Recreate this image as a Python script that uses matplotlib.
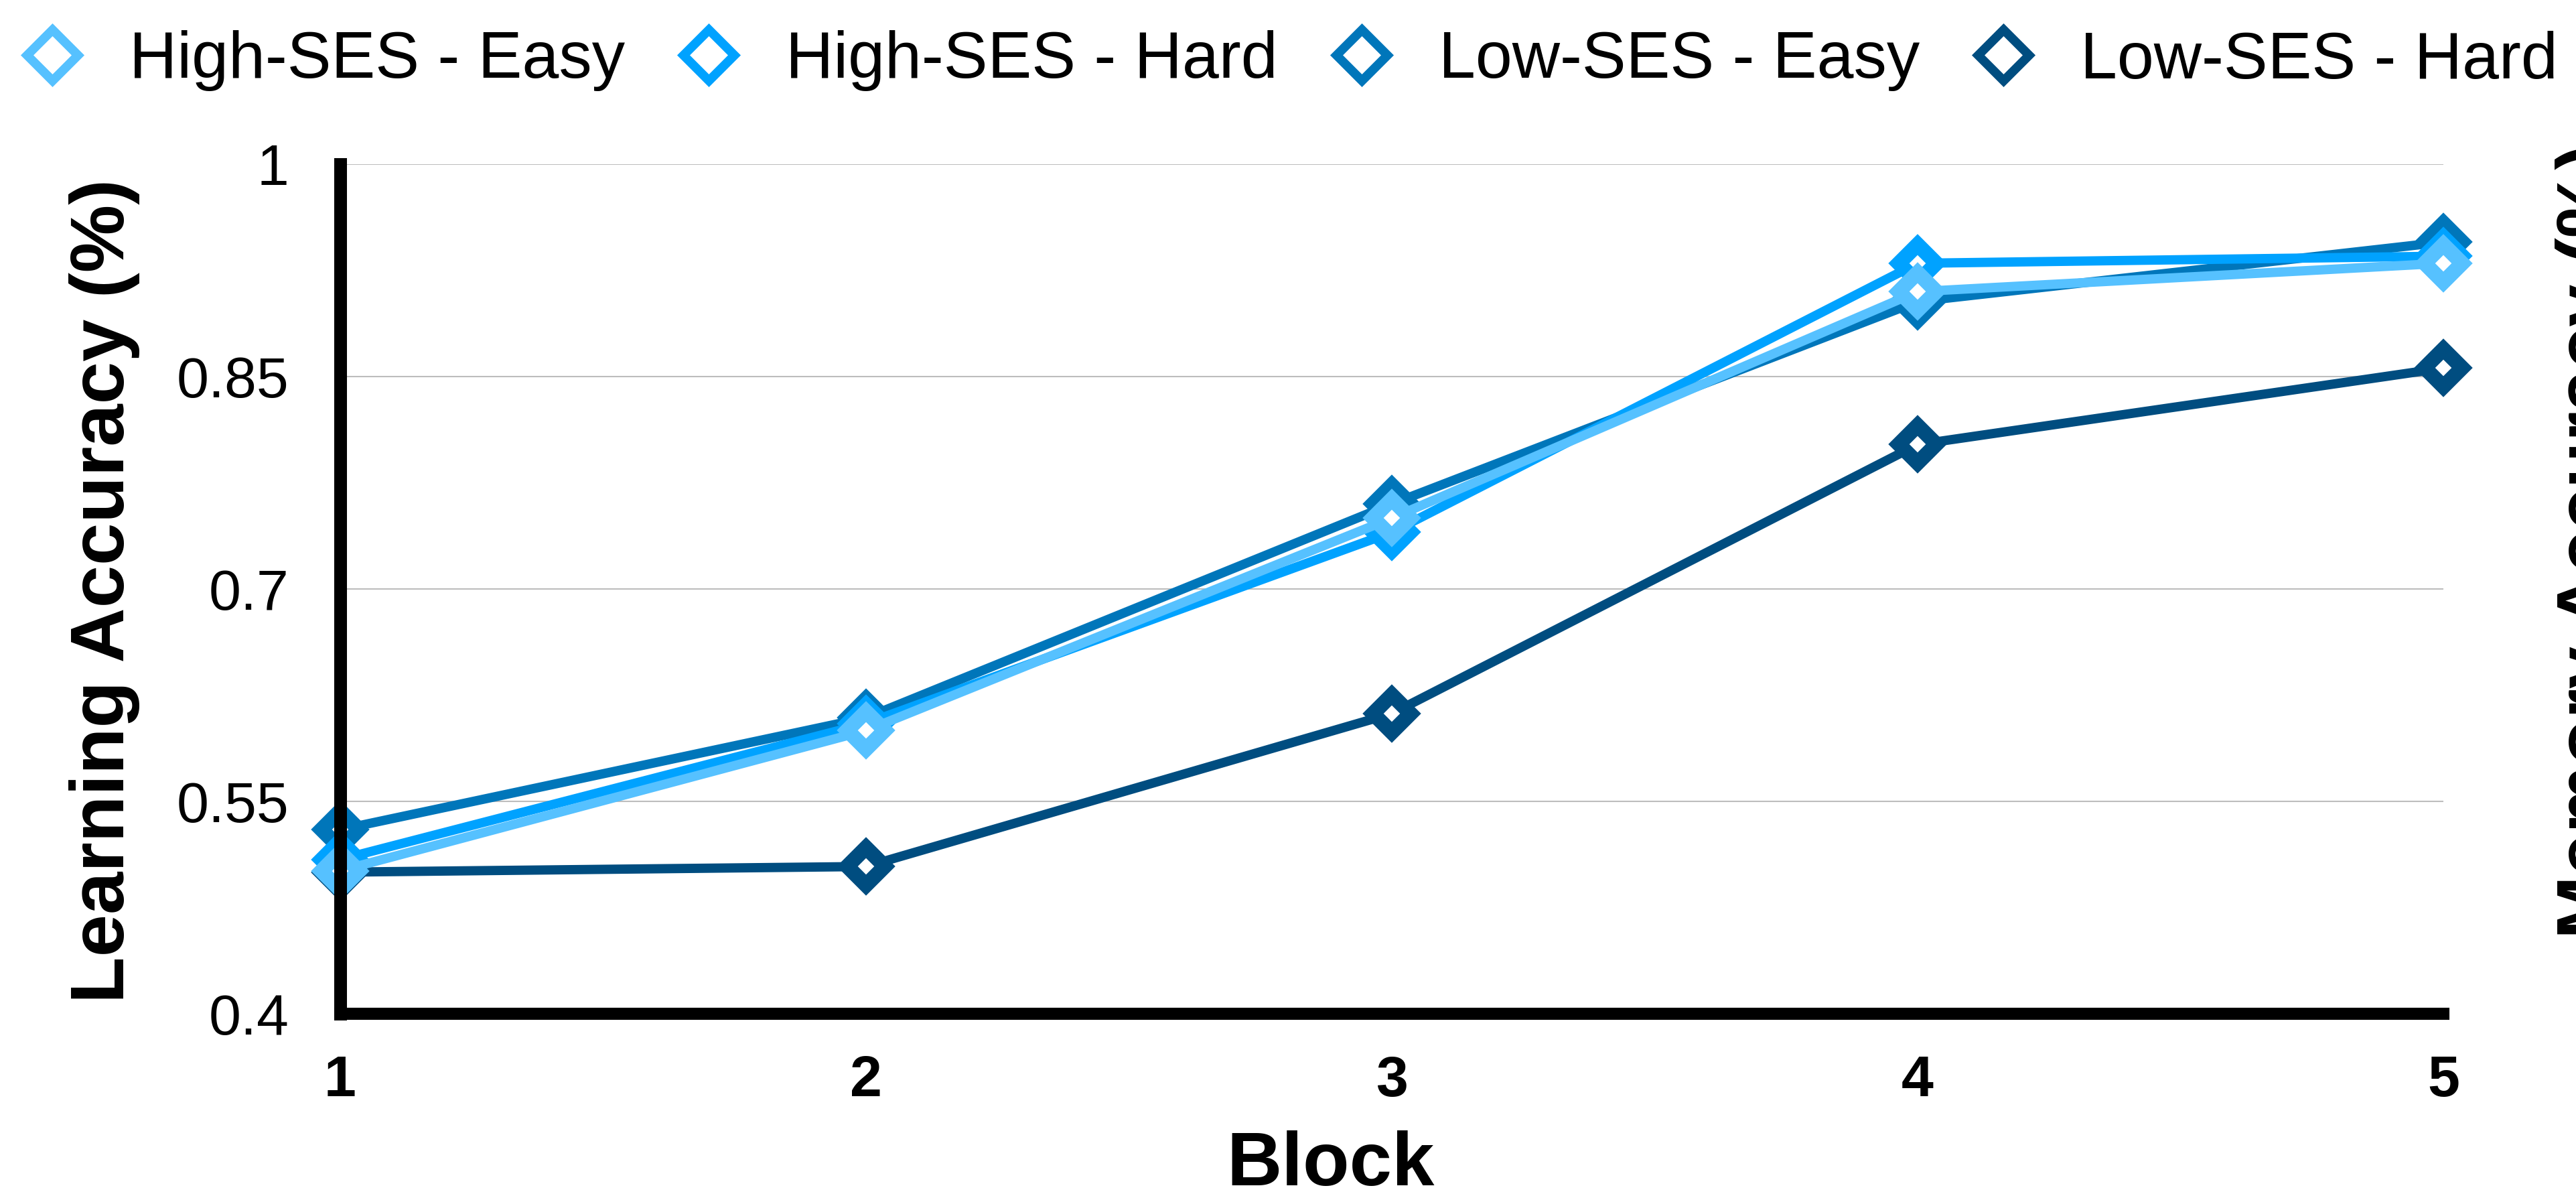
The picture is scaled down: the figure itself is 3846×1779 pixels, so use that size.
import matplotlib
matplotlib.use("Agg")
import matplotlib.pyplot as plt
from matplotlib.lines import Line2D

plt.rcParams['font.family'] = ['Liberation Sans', 'DejaVu Sans']

blocks = [1, 2, 3, 4, 5]
high_easy = [0.501, 0.600, 0.750, 0.910, 0.930]
high_hard = [0.509, 0.605, 0.740, 0.930, 0.935]
low_easy = [0.530, 0.609, 0.760, 0.903, 0.945]
low_hard = [0.500, 0.504, 0.612, 0.802, 0.856]

labels = ['High-SES - Easy', 'High-SES - Hard', 'Low-SES - Easy', 'Low-SES - Hard']
colors = ['#56C1FF', '#00A2FF', '#0076BA', '#004D80']
yticks = [0.4, 0.55, 0.7, 0.85, 1]
ytick_labels = ['0.4', '0.55', '0.7', '0.85', '1']

W, H = 3846, 1779
fig = plt.figure(figsize=(W / 100, H / 100), dpi=100)
ax = fig.add_axes([508 / W, 1 - 1513 / H, 3140 / W, 1268 / H])

series = [high_easy, high_hard, low_easy, low_hard]
# darkest first so the light series end up on top
for vals, c in reversed(list(zip(series, colors))):
    ax.plot(blocks, vals, color=c, lw=10, marker='D', ms=28.5, mew=16,
            mfc='white', mec=c, clip_on=False, solid_joinstyle='miter')

ax.set_xlim(1, 5)
ax.set_ylim(0.4, 1)
ax.set_xticks(blocks)
ax.set_xticklabels([str(b) for b in blocks], fontsize=62, fontweight='bold')
ax.set_yticks(yticks)
ax.set_yticklabels(ytick_labels, fontsize=62)
ax.tick_params(axis='both', length=0)
ax.tick_params(axis='x', pad=44)
ax.tick_params(axis='y', pad=55)

for s in ['top', 'right']:
    ax.spines[s].set_visible(False)
ax.spines['left'].set_linewidth(13.7)
ax.spines['bottom'].set_linewidth(13)

ax.yaxis.grid(True, color='#BDBDBD', lw=1.5)
ax.set_axisbelow(True)

ax.set_xlabel('Block', fontsize=82, fontweight='bold')
ax.xaxis.set_label_coords(0.471, -0.137)
fig.text(156 / W, 1 - 882 / H, 'Learning Accuracy (%)', rotation=90,
         fontsize=82, fontweight='bold', ha='center', va='center')
fig.text(3868 / W, 1 - 808 / H, 'Memory Accuracy (%)', rotation=90,
         fontsize=82, fontweight='bold', ha='center', va='center')

handles = [Line2D([], [], ls='none', marker='D', ms=39, mew=9.7,
                  mfc='white', mec=c) for c in colors]
fig.legend(handles, labels, loc='center left', ncol=4, frameon=False,
           fontsize=71, handlelength=1.0, handletextpad=0.666,
           columnspacing=0.768, borderpad=0, borderaxespad=0,
           bbox_to_anchor=(29 / W, 1 - 91 / H), bbox_transform=fig.transFigure)

fig.savefig('out.png', dpi=100)
